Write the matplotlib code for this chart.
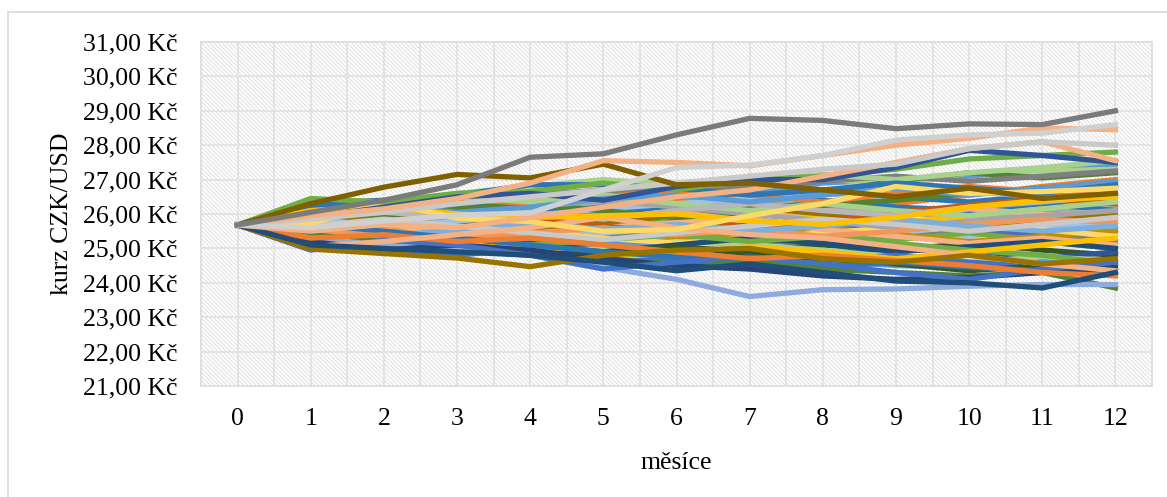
import matplotlib
matplotlib.use('Agg')
import matplotlib.pyplot as plt
from matplotlib.patches import Rectangle
from matplotlib.lines import Line2D
from matplotlib.ticker import FuncFormatter

plt.rcParams['font.family'] = ['Liberation Serif', 'DejaVu Serif']
plt.rcParams['hatch.linewidth'] = 0.6

months = list(range(13))

# simulované trajektorie kurzu CZK/USD
gray_top = [25.68, 26.05, 26.4, 26.85, 27.65, 27.75, 28.3, 28.78, 28.72, 28.48, 28.62, 28.6, 29.0]
olive_top = [25.68, 26.3, 26.78, 27.15, 27.05, 27.45, 26.85, 26.9, 26.7, 26.5, 26.75, 26.45, 26.6]
peach_top = [25.68, 25.95, 26.15, 26.45, 26.9, 27.55, 27.5, 27.4, 27.7, 28.0, 28.2, 28.5, 28.45]
lgray_top = [25.68, 25.6, 25.8, 25.97, 26.03, 26.7, 27.35, 27.42, 27.7, 28.15, 28.3, 28.35, 28.6]
lgray_2 = [25.68, 25.85, 26.05, 26.3, 26.5, 26.7, 26.9, 27.1, 27.3, 27.45, 27.9, 28.1, 28.0]
peach_2 = [25.68, 25.5, 25.7, 25.6, 25.9, 26.2, 26.5, 26.7, 27.1, 27.5, 27.9, 28.1, 27.55]
dblue_top = [25.68, 25.9, 26.2, 26.5, 26.6, 26.4, 26.8, 27.0, 27.0, 27.35, 27.85, 27.7, 27.5]
green_top = [25.68, 26.45, 26.35, 26.6, 26.65, 26.9, 26.7, 27.0, 27.1, 27.3, 27.6, 27.7, 27.8]
yellow_zig = [25.68, 25.72, 26.35, 25.88, 25.78, 25.5, 25.55, 25.95, 26.3, 26.8, 26.6, 26.65, 26.75]
gold_mid = [25.68, 26.1, 26.2, 26.0, 25.9, 25.95, 26.0, 25.8, 25.7, 25.9, 26.2, 26.4, 26.5]
olive_low = [25.68, 24.98, 24.85, 24.72, 24.47, 24.8, 24.95, 25.0, 24.7, 24.6, 24.8, 24.55, 24.7]
dblue_low = [25.68, 25.1, 25.0, 24.9, 24.8, 24.6, 24.35, 24.55, 24.3, 24.05, 24.0, 23.85, 24.3]
lblue_low = [25.68, 25.3, 25.1, 24.95, 24.85, 24.45, 24.1, 23.6, 23.8, 23.82, 23.9, 23.95, 23.95]
green_low = [25.68, 25.4, 25.2, 25.0, 24.9, 24.7, 24.55, 24.6, 24.4, 24.3, 24.2, 24.3, 23.85]
dblue_low2 = [25.68, 25.2, 24.95, 25.1, 24.95, 24.7, 24.5, 24.4, 24.2, 24.1, 24.15, 24.3, 24.45]
blue_low = [25.68, 24.95, 25.25, 25.1, 24.8, 24.4, 24.6, 24.75, 24.55, 24.3, 24.1, 24.4, 24.6]
orange_low = [25.68, 25.3, 25.4, 25.2, 25.3, 25.1, 24.9, 24.7, 24.8, 24.65, 24.5, 24.3, 24.2]
peach_low = [25.68, 25.05, 25.2, 25.4, 25.6, 25.9, 25.6, 25.4, 25.3, 25.05, 24.8, 24.55, 24.35]

bundle = [
    [25.68, 26.35, 26.3, 26.45, 26.7, 26.95, 26.8, 26.6, 26.9, 27.0, 27.1, 27.3, 27.4],
    [25.68, 26.2, 26.1, 26.3, 26.5, 26.4, 26.6, 26.9, 27.05, 26.8, 27.2, 27.25, 27.3],
    [25.68, 26.05, 26.25, 26.1, 26.35, 26.2, 26.35, 26.5, 26.65, 26.95, 27.2, 27.05, 27.2],
    [25.68, 25.95, 25.85, 26.2, 26.4, 26.55, 26.4, 26.25, 26.1, 26.3, 26.55, 26.8, 27.0],
    [25.68, 25.85, 26.0, 25.85, 26.1, 26.35, 26.15, 26.4, 26.2, 26.05, 25.9, 26.1, 26.25],
    [25.68, 25.75, 25.6, 25.9, 26.15, 26.0, 26.25, 26.1, 26.35, 26.5, 26.35, 26.55, 26.8],
    [25.68, 25.55, 25.45, 25.6, 25.85, 25.7, 25.95, 26.05, 25.9, 25.75, 25.95, 26.2, 26.4],
    [25.68, 25.45, 25.3, 25.5, 25.35, 25.55, 25.8, 25.65, 25.8, 26.0, 26.25, 26.0, 25.9],
    [25.68, 25.35, 25.55, 25.75, 25.6, 25.45, 25.3, 25.5, 25.7, 25.5, 25.35, 25.6, 25.7],
    [25.68, 25.25, 25.15, 25.35, 25.5, 25.3, 25.45, 25.25, 25.1, 25.3, 25.5, 25.4, 25.2],
    [25.68, 25.65, 25.9, 26.05, 25.8, 25.95, 25.7, 25.55, 25.4, 25.25, 25.45, 25.2, 25.0],
    [25.68, 25.8, 26.1, 26.3, 26.15, 25.9, 26.05, 25.85, 25.6, 25.75, 25.6, 25.4, 25.55],
    [25.68, 26.3, 26.4, 26.2, 26.0, 26.2, 26.5, 26.6, 26.4, 26.2, 26.1, 26.3, 26.1],
    [25.68, 26.0, 26.15, 26.35, 26.55, 26.7, 26.6, 26.8, 26.95, 27.1, 26.95, 27.1, 27.25],
    [25.68, 25.9, 25.7, 25.55, 25.4, 25.6, 25.75, 25.9, 26.1, 25.95, 26.15, 26.0, 25.85],
    [25.68, 25.4, 25.6, 25.4, 25.2, 25.05, 25.25, 25.45, 25.6, 25.4, 25.2, 25.35, 25.5],
    [25.68, 25.6, 25.35, 25.2, 25.0, 25.15, 25.05, 24.9, 25.1, 24.95, 25.15, 24.95, 24.8],
    [25.68, 25.5, 25.25, 25.05, 25.2, 24.95, 24.8, 25.0, 24.85, 25.0, 24.85, 24.7, 24.9],
    [25.68, 25.15, 25.3, 25.05, 24.9, 25.0, 25.2, 25.1, 24.95, 24.75, 24.6, 24.75, 24.65],
    [25.68, 25.05, 24.95, 25.15, 25.3, 25.2, 25.0, 24.85, 24.65, 24.5, 24.45, 24.6, 24.5],
    [25.68, 25.3, 25.45, 25.65, 25.5, 25.3, 25.15, 25.3, 25.45, 25.6, 25.75, 25.55, 25.35],
    [25.68, 25.75, 25.95, 25.75, 25.55, 25.75, 25.95, 26.2, 26.0, 25.8, 25.65, 25.85, 26.0],
    [25.68, 25.85, 25.65, 25.8, 25.95, 26.15, 26.3, 26.45, 26.6, 26.45, 26.65, 26.5, 26.6],
    [25.68, 26.1, 25.95, 26.15, 26.3, 26.1, 25.9, 26.05, 26.25, 26.4, 26.6, 26.75, 26.9],
    [25.68, 25.95, 26.2, 26.45, 26.3, 26.5, 26.7, 26.55, 26.35, 26.6, 26.8, 26.65, 26.5],
    [25.68, 25.55, 25.75, 25.95, 26.2, 26.4, 26.2, 26.0, 25.8, 25.6, 25.8, 25.95, 26.1],
    [25.68, 25.45, 25.7, 25.5, 25.7, 25.9, 26.05, 25.8, 25.55, 25.35, 25.15, 25.3, 25.1],
    [25.68, 25.2, 25.4, 25.25, 25.1, 24.9, 25.1, 25.3, 25.15, 24.9, 25.05, 25.2, 25.0],
    [25.68, 25.35, 25.2, 24.95, 25.1, 25.25, 25.4, 25.2, 25.35, 25.15, 24.95, 24.8, 24.55],
    [25.68, 25.1, 24.9, 24.8, 25.0, 24.85, 24.65, 24.5, 24.65, 24.8, 24.6, 24.45, 24.35],
    [25.68, 25.5, 25.35, 25.15, 24.95, 24.75, 24.85, 25.05, 24.9, 24.7, 24.9, 25.1, 25.3],
    [25.68, 25.6, 25.8, 26.0, 25.85, 25.65, 25.45, 25.6, 25.8, 26.05, 26.25, 26.45, 26.3],
    [25.68, 26.15, 26.3, 26.5, 26.35, 26.55, 26.3, 26.1, 26.3, 26.1, 25.95, 26.15, 26.35],
    [25.68, 25.9, 26.05, 25.9, 26.05, 25.85, 26.1, 26.3, 26.1, 25.95, 26.2, 26.35, 26.55],
    [25.68, 25.25, 25.05, 24.95, 24.8, 24.9, 25.05, 24.85, 24.7, 24.55, 24.35, 24.5, 24.4],
    [25.68, 25.45, 25.55, 25.3, 25.45, 25.6, 25.4, 25.55, 25.35, 25.5, 25.7, 25.85, 25.75],
    [25.68, 25.15, 25.35, 25.55, 25.75, 25.55, 25.7, 25.5, 25.65, 25.85, 25.65, 25.5, 25.65],
    [25.68, 25.7, 25.5, 25.3, 25.1, 24.9, 24.75, 24.6, 24.45, 24.6, 24.45, 24.35, 24.25],
    [25.68, 25.65, 25.85, 25.65, 25.45, 25.25, 25.45, 25.65, 25.85, 25.7, 25.5, 25.7, 25.9],
    [25.68, 26.0, 26.25, 26.05, 26.2, 26.45, 26.55, 26.35, 26.55, 26.75, 26.55, 26.75, 26.95],
    [25.68, 26.2, 26.35, 26.6, 26.8, 27.0, 26.85, 26.95, 27.15, 27.0, 27.2, 27.35, 27.55],
    [25.68, 26.25, 26.35, 26.55, 26.85, 26.85, 26.75, 26.55, 26.7, 26.9, 26.75, 26.6, 26.85],
]

y_ticks = list(range(21, 32))

# barvy řad (výchozí paleta Office)
bundle_colors = ['#5B9BD5', '#A9D18E', '#548235', '#ED7D31', '#A5A5A5', '#2E75B6',
                 '#FFC000', '#C55A11', '#9DC3E6', '#7F7F7F', '#70AD47', '#4472C4',
                 '#2E75B6', '#7F7F7F', '#F4B183', '#BF9000', '#375623', '#2F5597',
                 '#A9D18E', '#5B9BD5', '#FFD966', '#997300', '#9DC3E6', '#548235',
                 '#ED7D31', '#A5A5A5', '#F4B183', '#1F4E79', '#70AD47', '#4472C4',
                 '#FFC000', '#C55A11', '#A9D18E', '#B7B7B7', '#385723', '#F1975A',
                 '#7CAFDD', '#2E75B6', '#C9C9C9', '#5B9BD5', '#A9D18E', '#2E75B6']

special = [
    (green_low, '#548235'), (lblue_low, '#8FAADC'), (dblue_low2, '#264478'),
    (blue_low, '#4472C4'), (orange_low, '#ED7D31'), (peach_low, '#F4B183'),
    (olive_low, '#997300'), (dblue_low, '#1F4E79'),
    (gold_mid, '#FFC000'), (yellow_zig, '#FFD966'),
    (green_top, '#70AD47'), (dblue_top, '#2F5597'), (peach_2, '#F4B183'),
    (lgray_2, '#C9C9C9'), (olive_top, '#7F6000'), (peach_top, '#F4B183'),
    (lgray_top, '#D0D0D0'), (gray_top, '#7B7B7B'),
]

fig = plt.figure(figsize=(11.67, 4.97), dpi=100)
ax = fig.add_axes([201 / 1167, 1 - 386 / 497, 951 / 1167, 344 / 497])

# šrafované pozadí plochy grafu
ax.add_patch(Rectangle((0, 0), 1, 1, transform=ax.transAxes, facecolor='white',
                       edgecolor='#dadada', hatch='\\' * 8, linewidth=0, zorder=0))

for path, col in zip(bundle, bundle_colors):
    ax.plot(months, path, color=col, lw=3.8, solid_joinstyle='round', zorder=3)
for path, col in special:
    ax.plot(months, path, color=col, lw=3.8, solid_joinstyle='round', zorder=3)

ax.set_xlim(-0.5, 12.5)
ax.set_ylim(21, 31)
ax.set_xticks(months)
ax.set_xticks([m - 0.5 for m in months] + [12.5], minor=True)
ax.set_yticks(y_ticks)
ax.yaxis.set_major_formatter(FuncFormatter(lambda v, p: f'{v:.2f}'.replace('.', ',') + ' Kč'))

ax.grid(True, which='both', axis='x', color='#e3e3e3', lw=1.4, zorder=1)
ax.grid(True, which='major', axis='y', color='#e3e3e3', lw=1.4, zorder=1)
ax.set_axisbelow(True)
ax.tick_params(which='both', length=0)
ax.tick_params(axis='y', pad=17, labelsize=18.5)
ax.tick_params(axis='x', pad=16, labelsize=18.5)
for s in ax.spines.values():
    s.set_color('#e0e0e0')
    s.set_linewidth(1.4)

ax.set_xlabel('měsíce', fontsize=18.5, labelpad=16)
ax.set_ylabel('kurz CZK/USD', fontsize=18.5, labelpad=7)

# rámeček oblasti grafu
fig.add_artist(Line2D([8 / 1167, 1], [1 - 12 / 497] * 2, color='#d9d9d9', lw=1.2))
fig.add_artist(Line2D([8 / 1167] * 2, [0, 1 - 12 / 497], color='#d9d9d9', lw=1.2))

fig.savefig('out.png', dpi=100)
